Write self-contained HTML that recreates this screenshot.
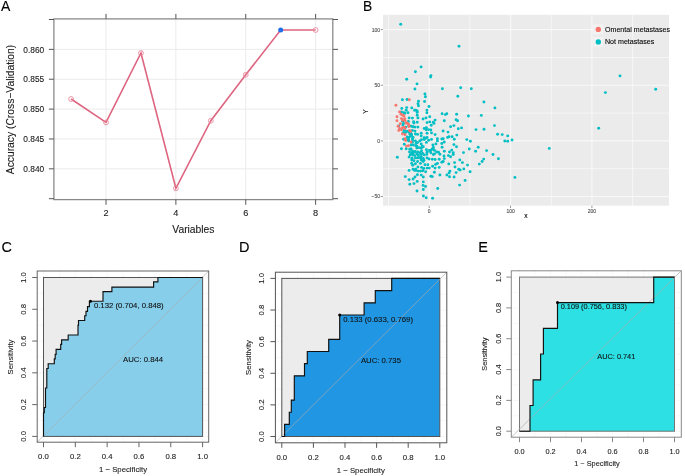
<!DOCTYPE html>
<html><head><meta charset="utf-8"><style>
html,body{margin:0;padding:0;background:#fff;}
svg{display:block;font-family:"Liberation Sans", sans-serif;}
text{-webkit-font-smoothing:antialiased;}
svg{will-change:transform;filter:blur(0.25px);}
</style></head><body>
<svg width="685" height="476" viewBox="0 0 685 476">
<rect width="685" height="476" fill="#fff"/>
<text stroke="#000" stroke-width="0.1" x="0.9" y="11.3" font-size="14" fill="#000">A</text>
<line x1="106.03" y1="18.9" x2="106.03" y2="199.6" stroke="#ebebeb" stroke-width="1"/>
<line x1="175.89" y1="18.9" x2="175.89" y2="199.6" stroke="#ebebeb" stroke-width="1"/>
<line x1="245.75" y1="18.9" x2="245.75" y2="199.6" stroke="#ebebeb" stroke-width="1"/>
<line x1="315.61" y1="18.9" x2="315.61" y2="199.6" stroke="#ebebeb" stroke-width="1"/>
<line x1="53.9" y1="168.83" x2="332.8" y2="168.83" stroke="#ebebeb" stroke-width="1"/>
<line x1="53.9" y1="138.97" x2="332.8" y2="138.97" stroke="#ebebeb" stroke-width="1"/>
<line x1="53.9" y1="109.1" x2="332.8" y2="109.1" stroke="#ebebeb" stroke-width="1"/>
<line x1="53.9" y1="79.23" x2="332.8" y2="79.23" stroke="#ebebeb" stroke-width="1"/>
<line x1="53.9" y1="49.37" x2="332.8" y2="49.37" stroke="#ebebeb" stroke-width="1"/>
<rect x="53.9" y="18.9" width="278.9" height="180.7" fill="none" stroke="#8a8a8a" stroke-width="1.3"/>
<line x1="48.9" y1="198.7" x2="53.9" y2="198.7" stroke="#555" stroke-width="1"/>
<line x1="332.8" y1="198.7" x2="338" y2="198.7" stroke="#555" stroke-width="1"/>
<line x1="48.9" y1="168.83" x2="53.9" y2="168.83" stroke="#555" stroke-width="1"/>
<line x1="332.8" y1="168.83" x2="338" y2="168.83" stroke="#555" stroke-width="1"/>
<line x1="48.9" y1="138.97" x2="53.9" y2="138.97" stroke="#555" stroke-width="1"/>
<line x1="332.8" y1="138.97" x2="338" y2="138.97" stroke="#555" stroke-width="1"/>
<line x1="48.9" y1="109.1" x2="53.9" y2="109.1" stroke="#555" stroke-width="1"/>
<line x1="332.8" y1="109.1" x2="338" y2="109.1" stroke="#555" stroke-width="1"/>
<line x1="48.9" y1="79.23" x2="53.9" y2="79.23" stroke="#555" stroke-width="1"/>
<line x1="332.8" y1="79.23" x2="338" y2="79.23" stroke="#555" stroke-width="1"/>
<line x1="48.9" y1="49.37" x2="53.9" y2="49.37" stroke="#555" stroke-width="1"/>
<line x1="332.8" y1="49.37" x2="338" y2="49.37" stroke="#555" stroke-width="1"/>
<line x1="48.9" y1="19.5" x2="53.9" y2="19.5" stroke="#555" stroke-width="1"/>
<line x1="332.8" y1="19.5" x2="338" y2="19.5" stroke="#555" stroke-width="1"/>
<line x1="106.03" y1="199.6" x2="106.03" y2="204.8" stroke="#555" stroke-width="1"/>
<line x1="106.03" y1="13.9" x2="106.03" y2="18.9" stroke="#555" stroke-width="1"/>
<text stroke="#1a1a1a" stroke-width="0.1" x="106.03" y="216" font-size="9.2" text-anchor="middle" fill="#1a1a1a">2</text>
<line x1="175.89" y1="199.6" x2="175.89" y2="204.8" stroke="#555" stroke-width="1"/>
<line x1="175.89" y1="13.9" x2="175.89" y2="18.9" stroke="#555" stroke-width="1"/>
<text stroke="#1a1a1a" stroke-width="0.1" x="175.89" y="216" font-size="9.2" text-anchor="middle" fill="#1a1a1a">4</text>
<line x1="245.75" y1="199.6" x2="245.75" y2="204.8" stroke="#555" stroke-width="1"/>
<line x1="245.75" y1="13.9" x2="245.75" y2="18.9" stroke="#555" stroke-width="1"/>
<text stroke="#1a1a1a" stroke-width="0.1" x="245.75" y="216" font-size="9.2" text-anchor="middle" fill="#1a1a1a">6</text>
<line x1="315.61" y1="199.6" x2="315.61" y2="204.8" stroke="#555" stroke-width="1"/>
<line x1="315.61" y1="13.9" x2="315.61" y2="18.9" stroke="#555" stroke-width="1"/>
<text stroke="#1a1a1a" stroke-width="0.1" x="315.61" y="216" font-size="9.2" text-anchor="middle" fill="#1a1a1a">8</text>
<text stroke="#1a1a1a" stroke-width="0.1" transform="translate(44.2,172.03) scale(0.95,1)" font-size="8.8" text-anchor="end" fill="#1a1a1a">0.840</text>
<text stroke="#1a1a1a" stroke-width="0.1" transform="translate(44.2,142.17) scale(0.95,1)" font-size="8.8" text-anchor="end" fill="#1a1a1a">0.845</text>
<text stroke="#1a1a1a" stroke-width="0.1" transform="translate(44.2,112.3) scale(0.95,1)" font-size="8.8" text-anchor="end" fill="#1a1a1a">0.850</text>
<text stroke="#1a1a1a" stroke-width="0.1" transform="translate(44.2,82.43) scale(0.95,1)" font-size="8.8" text-anchor="end" fill="#1a1a1a">0.855</text>
<text stroke="#1a1a1a" stroke-width="0.1" transform="translate(44.2,52.57) scale(0.95,1)" font-size="8.8" text-anchor="end" fill="#1a1a1a">0.860</text>
<text stroke="#1a1a1a" stroke-width="0.1" x="193.4" y="233.2" font-size="10.3" text-anchor="middle" fill="#1a1a1a">Variables</text>
<text stroke="#1a1a1a" stroke-width="0.1" transform="translate(13.6,109.5) rotate(-90)" x="0" y="0" font-size="10.3" text-anchor="middle" fill="#1a1a1a">Accuracy (Cross−Validation)</text>
<polyline points="71.1,99 106.03,122.4 140.96,53 175.89,188.3 210.82,120.7 245.75,74.8 280.68,30 315.61,30" fill="none" stroke="#de6580" stroke-width="1.6"/>
<circle cx="71.1" cy="99" r="2.4" fill="none" stroke="#e8899c" stroke-width="0.9"/>
<circle cx="106.03" cy="122.4" r="2.4" fill="none" stroke="#e8899c" stroke-width="0.9"/>
<circle cx="140.96" cy="53" r="2.4" fill="none" stroke="#e8899c" stroke-width="0.9"/>
<circle cx="175.89" cy="188.3" r="2.4" fill="none" stroke="#e8899c" stroke-width="0.9"/>
<circle cx="210.82" cy="120.7" r="2.4" fill="none" stroke="#e8899c" stroke-width="0.9"/>
<circle cx="245.75" cy="74.8" r="2.4" fill="none" stroke="#e8899c" stroke-width="0.9"/>
<circle cx="315.61" cy="30" r="2.4" fill="none" stroke="#e8899c" stroke-width="0.9"/>
<circle cx="280.68" cy="30.0" r="2.5" fill="#1f6fe8"/>
<text stroke="#000" stroke-width="0.1" x="363.0" y="11.0" font-size="13.8" fill="#000">B</text>
<rect x="383.0" y="14.8" width="286" height="190.9" fill="#ebebeb"/>
<line x1="388.52" y1="14.8" x2="388.52" y2="205.7" stroke="#fafafa" stroke-width="0.7"/>
<line x1="469.88" y1="14.8" x2="469.88" y2="205.7" stroke="#fafafa" stroke-width="0.7"/>
<line x1="551.24" y1="14.8" x2="551.24" y2="205.7" stroke="#fafafa" stroke-width="0.7"/>
<line x1="632.6" y1="14.8" x2="632.6" y2="205.7" stroke="#fafafa" stroke-width="0.7"/>
<line x1="383.0" y1="57.46" x2="669.0" y2="57.46" stroke="#fafafa" stroke-width="0.7"/>
<line x1="383.0" y1="113.09" x2="669.0" y2="113.09" stroke="#fafafa" stroke-width="0.7"/>
<line x1="383.0" y1="168.71" x2="669.0" y2="168.71" stroke="#fafafa" stroke-width="0.7"/>
<line x1="429.2" y1="14.8" x2="429.2" y2="205.7" stroke="#f8f8f8" stroke-width="1.1"/>
<line x1="429.2" y1="205.7" x2="429.2" y2="208" stroke="#333" stroke-width="0.5"/>
<text stroke="#4d4d4d" stroke-width="0.1" x="429.2" y="213.1" font-size="5.0" text-anchor="middle" fill="#4d4d4d">0</text>
<line x1="510.56" y1="14.8" x2="510.56" y2="205.7" stroke="#f8f8f8" stroke-width="1.1"/>
<line x1="510.56" y1="205.7" x2="510.56" y2="208" stroke="#333" stroke-width="0.5"/>
<text stroke="#4d4d4d" stroke-width="0.1" x="510.56" y="213.1" font-size="5.0" text-anchor="middle" fill="#4d4d4d">100</text>
<line x1="591.92" y1="14.8" x2="591.92" y2="205.7" stroke="#f8f8f8" stroke-width="1.1"/>
<line x1="591.92" y1="205.7" x2="591.92" y2="208" stroke="#333" stroke-width="0.5"/>
<text stroke="#4d4d4d" stroke-width="0.1" x="591.92" y="213.1" font-size="5.0" text-anchor="middle" fill="#4d4d4d">200</text>
<line x1="383.0" y1="29.65" x2="669.0" y2="29.65" stroke="#f8f8f8" stroke-width="1.1"/>
<line x1="380.7" y1="29.65" x2="383.0" y2="29.65" stroke="#333" stroke-width="0.5"/>
<text stroke="#4d4d4d" stroke-width="0.1" x="380" y="31.55" font-size="5.0" text-anchor="end" fill="#4d4d4d">100</text>
<line x1="383.0" y1="85.28" x2="669.0" y2="85.28" stroke="#f8f8f8" stroke-width="1.1"/>
<line x1="380.7" y1="85.28" x2="383.0" y2="85.28" stroke="#333" stroke-width="0.5"/>
<text stroke="#4d4d4d" stroke-width="0.1" x="380" y="87.18" font-size="5.0" text-anchor="end" fill="#4d4d4d">50</text>
<line x1="383.0" y1="140.9" x2="669.0" y2="140.9" stroke="#f8f8f8" stroke-width="1.1"/>
<line x1="380.7" y1="140.9" x2="383.0" y2="140.9" stroke="#333" stroke-width="0.5"/>
<text stroke="#4d4d4d" stroke-width="0.1" x="380" y="142.8" font-size="5.0" text-anchor="end" fill="#4d4d4d">0</text>
<line x1="383.0" y1="196.53" x2="669.0" y2="196.53" stroke="#f8f8f8" stroke-width="1.1"/>
<line x1="380.7" y1="196.53" x2="383.0" y2="196.53" stroke="#333" stroke-width="0.5"/>
<text stroke="#4d4d4d" stroke-width="0.1" x="380" y="198.43" font-size="5.0" text-anchor="end" fill="#4d4d4d">−50</text>
<text stroke="#000" stroke-width="0.1" x="526" y="218.2" font-size="6.6" text-anchor="middle" fill="#000">x</text>
<text stroke="#000" stroke-width="0.1" transform="translate(367.6,111.5) rotate(-90)" x="0" y="0" font-size="6.6" text-anchor="middle" fill="#000">Y</text>
<circle cx="400.7" cy="24.3" r="1.45" fill="#00bfc4"/>
<circle cx="459" cy="46.2" r="1.45" fill="#00bfc4"/>
<circle cx="421.1" cy="66.9" r="1.45" fill="#00bfc4"/>
<circle cx="415.4" cy="71.8" r="1.45" fill="#00bfc4"/>
<circle cx="430.9" cy="75.6" r="1.45" fill="#00bfc4"/>
<circle cx="430.6" cy="77" r="1.45" fill="#00bfc4"/>
<circle cx="406.7" cy="79.3" r="1.45" fill="#00bfc4"/>
<circle cx="417" cy="83.9" r="1.45" fill="#00bfc4"/>
<circle cx="414.9" cy="89" r="1.45" fill="#00bfc4"/>
<circle cx="442.4" cy="88.8" r="1.45" fill="#00bfc4"/>
<circle cx="424.9" cy="94" r="1.45" fill="#00bfc4"/>
<circle cx="425.4" cy="96.8" r="1.45" fill="#00bfc4"/>
<circle cx="402.4" cy="99.8" r="1.45" fill="#00bfc4"/>
<circle cx="407" cy="99.5" r="1.45" fill="#00bfc4"/>
<circle cx="418.5" cy="101.2" r="1.45" fill="#00bfc4"/>
<circle cx="424.6" cy="101.5" r="1.45" fill="#00bfc4"/>
<circle cx="418" cy="103.8" r="1.45" fill="#00bfc4"/>
<circle cx="418.5" cy="105.8" r="1.45" fill="#00bfc4"/>
<circle cx="429" cy="106.5" r="1.45" fill="#00bfc4"/>
<circle cx="401.8" cy="108.4" r="1.45" fill="#00bfc4"/>
<circle cx="406.7" cy="107.6" r="1.45" fill="#00bfc4"/>
<circle cx="411.8" cy="107.9" r="1.45" fill="#00bfc4"/>
<circle cx="460.7" cy="87.8" r="1.45" fill="#00bfc4"/>
<circle cx="471.3" cy="88.8" r="1.45" fill="#00bfc4"/>
<circle cx="457.8" cy="96.3" r="1.45" fill="#00bfc4"/>
<circle cx="483.9" cy="102" r="1.45" fill="#00bfc4"/>
<circle cx="494.9" cy="107.9" r="1.45" fill="#00bfc4"/>
<circle cx="406.2" cy="110.3" r="1.45" fill="#00bfc4"/>
<circle cx="414.6" cy="110.3" r="1.45" fill="#00bfc4"/>
<circle cx="417.2" cy="110.9" r="1.45" fill="#00bfc4"/>
<circle cx="417.2" cy="112.4" r="1.45" fill="#00bfc4"/>
<circle cx="426.9" cy="110.1" r="1.45" fill="#00bfc4"/>
<circle cx="426.9" cy="112.7" r="1.45" fill="#00bfc4"/>
<circle cx="401.4" cy="112" r="1.45" fill="#00bfc4"/>
<circle cx="403.6" cy="112.7" r="1.45" fill="#00bfc4"/>
<circle cx="408" cy="112.7" r="1.45" fill="#00bfc4"/>
<circle cx="417.2" cy="115.3" r="1.45" fill="#00bfc4"/>
<circle cx="409.1" cy="117.9" r="1.45" fill="#00bfc4"/>
<circle cx="412.4" cy="118.1" r="1.45" fill="#00bfc4"/>
<circle cx="417.9" cy="117.9" r="1.45" fill="#00bfc4"/>
<circle cx="423.1" cy="119" r="1.45" fill="#00bfc4"/>
<circle cx="426" cy="117.9" r="1.45" fill="#00bfc4"/>
<circle cx="429.7" cy="116.8" r="1.45" fill="#00bfc4"/>
<circle cx="402.5" cy="121.2" r="1.45" fill="#00bfc4"/>
<circle cx="408.4" cy="121.5" r="1.45" fill="#00bfc4"/>
<circle cx="413.9" cy="123" r="1.45" fill="#00bfc4"/>
<circle cx="417.2" cy="122.3" r="1.45" fill="#00bfc4"/>
<circle cx="427.1" cy="122.6" r="1.45" fill="#00bfc4"/>
<circle cx="429.7" cy="121.9" r="1.45" fill="#00bfc4"/>
<circle cx="403.6" cy="123.4" r="1.45" fill="#00bfc4"/>
<circle cx="402.9" cy="124.9" r="1.45" fill="#00bfc4"/>
<circle cx="431.2" cy="125.2" r="1.45" fill="#00bfc4"/>
<circle cx="398.8" cy="126" r="1.45" fill="#00bfc4"/>
<circle cx="405.8" cy="127.1" r="1.45" fill="#00bfc4"/>
<circle cx="408.7" cy="126" r="1.45" fill="#00bfc4"/>
<circle cx="411.3" cy="126.3" r="1.45" fill="#00bfc4"/>
<circle cx="413.1" cy="126.7" r="1.45" fill="#00bfc4"/>
<circle cx="415" cy="127.1" r="1.45" fill="#00bfc4"/>
<circle cx="417.9" cy="127.1" r="1.45" fill="#00bfc4"/>
<circle cx="424.2" cy="128.5" r="1.45" fill="#00bfc4"/>
<circle cx="426.4" cy="127.8" r="1.45" fill="#00bfc4"/>
<circle cx="428.6" cy="129.6" r="1.45" fill="#00bfc4"/>
<circle cx="430.8" cy="130" r="1.45" fill="#00bfc4"/>
<circle cx="404.3" cy="130.4" r="1.45" fill="#00bfc4"/>
<circle cx="406.5" cy="131.5" r="1.45" fill="#00bfc4"/>
<circle cx="412.4" cy="130.4" r="1.45" fill="#00bfc4"/>
<circle cx="415" cy="131.1" r="1.45" fill="#00bfc4"/>
<circle cx="403.2" cy="132.6" r="1.45" fill="#00bfc4"/>
<circle cx="405.1" cy="132.9" r="1.45" fill="#00bfc4"/>
<circle cx="410.9" cy="133.3" r="1.45" fill="#00bfc4"/>
<circle cx="415.4" cy="134" r="1.45" fill="#00bfc4"/>
<circle cx="417.6" cy="134.4" r="1.45" fill="#00bfc4"/>
<circle cx="421.2" cy="133.3" r="1.45" fill="#00bfc4"/>
<circle cx="427.1" cy="133.3" r="1.45" fill="#00bfc4"/>
<circle cx="431.5" cy="132.9" r="1.45" fill="#00bfc4"/>
<circle cx="407.3" cy="137" r="1.45" fill="#00bfc4"/>
<circle cx="408.7" cy="137.4" r="1.45" fill="#00bfc4"/>
<circle cx="411.7" cy="135.9" r="1.45" fill="#00bfc4"/>
<circle cx="413.1" cy="137.4" r="1.45" fill="#00bfc4"/>
<circle cx="421.2" cy="135.9" r="1.45" fill="#00bfc4"/>
<circle cx="424.2" cy="137.7" r="1.45" fill="#00bfc4"/>
<circle cx="427.1" cy="137.4" r="1.45" fill="#00bfc4"/>
<circle cx="403.6" cy="139.2" r="1.45" fill="#00bfc4"/>
<circle cx="407.3" cy="139.6" r="1.45" fill="#00bfc4"/>
<circle cx="442.1" cy="113.7" r="1.45" fill="#00bfc4"/>
<circle cx="445.4" cy="114.6" r="1.45" fill="#00bfc4"/>
<circle cx="446.8" cy="113.8" r="1.45" fill="#00bfc4"/>
<circle cx="456.6" cy="114.2" r="1.45" fill="#00bfc4"/>
<circle cx="468.4" cy="116" r="1.45" fill="#00bfc4"/>
<circle cx="435.1" cy="120.1" r="1.45" fill="#00bfc4"/>
<circle cx="433.3" cy="122.3" r="1.45" fill="#00bfc4"/>
<circle cx="434" cy="123.4" r="1.45" fill="#00bfc4"/>
<circle cx="444.3" cy="120.8" r="1.45" fill="#00bfc4"/>
<circle cx="456.1" cy="119.7" r="1.45" fill="#00bfc4"/>
<circle cx="457.6" cy="120.8" r="1.45" fill="#00bfc4"/>
<circle cx="450.6" cy="126.8" r="1.45" fill="#00bfc4"/>
<circle cx="453.9" cy="125.6" r="1.45" fill="#00bfc4"/>
<circle cx="458.3" cy="128.7" r="1.45" fill="#00bfc4"/>
<circle cx="461.6" cy="127.9" r="1.45" fill="#00bfc4"/>
<circle cx="476" cy="129.6" r="1.45" fill="#00bfc4"/>
<circle cx="443.1" cy="131" r="1.45" fill="#00bfc4"/>
<circle cx="448" cy="132.1" r="1.45" fill="#00bfc4"/>
<circle cx="435.1" cy="134.6" r="1.45" fill="#00bfc4"/>
<circle cx="456.8" cy="135.1" r="1.45" fill="#00bfc4"/>
<circle cx="447.6" cy="137.4" r="1.45" fill="#00bfc4"/>
<circle cx="449" cy="136.8" r="1.45" fill="#00bfc4"/>
<circle cx="452.1" cy="136.8" r="1.45" fill="#00bfc4"/>
<circle cx="437.4" cy="138.8" r="1.45" fill="#00bfc4"/>
<circle cx="441.8" cy="139" r="1.45" fill="#00bfc4"/>
<circle cx="443.2" cy="138.7" r="1.45" fill="#00bfc4"/>
<circle cx="454.3" cy="139.2" r="1.45" fill="#00bfc4"/>
<circle cx="466.8" cy="139.6" r="1.45" fill="#00bfc4"/>
<circle cx="431.5" cy="139.4" r="1.45" fill="#00bfc4"/>
<circle cx="481.3" cy="115.4" r="1.45" fill="#00bfc4"/>
<circle cx="494.5" cy="125.6" r="1.45" fill="#00bfc4"/>
<circle cx="484" cy="129.2" r="1.45" fill="#00bfc4"/>
<circle cx="497.6" cy="134.3" r="1.45" fill="#00bfc4"/>
<circle cx="502.2" cy="134.6" r="1.45" fill="#00bfc4"/>
<circle cx="507.7" cy="135.9" r="1.45" fill="#00bfc4"/>
<circle cx="512" cy="140" r="1.45" fill="#00bfc4"/>
<circle cx="504.8" cy="141" r="1.45" fill="#00bfc4"/>
<circle cx="507.7" cy="141.3" r="1.45" fill="#00bfc4"/>
<circle cx="404.3" cy="144.3" r="1.45" fill="#00bfc4"/>
<circle cx="401.4" cy="148.7" r="1.45" fill="#00bfc4"/>
<circle cx="397.3" cy="157.3" r="1.45" fill="#00bfc4"/>
<circle cx="406.2" cy="148.7" r="1.45" fill="#00bfc4"/>
<circle cx="408.7" cy="139.5" r="1.45" fill="#00bfc4"/>
<circle cx="412.4" cy="138.7" r="1.45" fill="#00bfc4"/>
<circle cx="412.4" cy="142.4" r="1.45" fill="#00bfc4"/>
<circle cx="411" cy="145" r="1.45" fill="#00bfc4"/>
<circle cx="415.4" cy="140.9" r="1.45" fill="#00bfc4"/>
<circle cx="417.6" cy="142.4" r="1.45" fill="#00bfc4"/>
<circle cx="419.8" cy="140.9" r="1.45" fill="#00bfc4"/>
<circle cx="421.2" cy="143.9" r="1.45" fill="#00bfc4"/>
<circle cx="422" cy="146.1" r="1.45" fill="#00bfc4"/>
<circle cx="416.8" cy="146.1" r="1.45" fill="#00bfc4"/>
<circle cx="419" cy="147.6" r="1.45" fill="#00bfc4"/>
<circle cx="421.2" cy="148.3" r="1.45" fill="#00bfc4"/>
<circle cx="426.4" cy="142.4" r="1.45" fill="#00bfc4"/>
<circle cx="428.6" cy="140.2" r="1.45" fill="#00bfc4"/>
<circle cx="424.2" cy="139.5" r="1.45" fill="#00bfc4"/>
<circle cx="411" cy="149" r="1.45" fill="#00bfc4"/>
<circle cx="412.4" cy="150.9" r="1.45" fill="#00bfc4"/>
<circle cx="409.5" cy="152" r="1.45" fill="#00bfc4"/>
<circle cx="413.9" cy="152.3" r="1.45" fill="#00bfc4"/>
<circle cx="417.6" cy="152" r="1.45" fill="#00bfc4"/>
<circle cx="419.8" cy="152.7" r="1.45" fill="#00bfc4"/>
<circle cx="422.7" cy="153.4" r="1.45" fill="#00bfc4"/>
<circle cx="426.4" cy="149.8" r="1.45" fill="#00bfc4"/>
<circle cx="429.3" cy="150.5" r="1.45" fill="#00bfc4"/>
<circle cx="427.1" cy="152.3" r="1.45" fill="#00bfc4"/>
<circle cx="430.8" cy="152.7" r="1.45" fill="#00bfc4"/>
<circle cx="410.2" cy="154.9" r="1.45" fill="#00bfc4"/>
<circle cx="414.6" cy="155.6" r="1.45" fill="#00bfc4"/>
<circle cx="418.3" cy="155.3" r="1.45" fill="#00bfc4"/>
<circle cx="421.2" cy="156.4" r="1.45" fill="#00bfc4"/>
<circle cx="424.2" cy="154.9" r="1.45" fill="#00bfc4"/>
<circle cx="427.1" cy="157.9" r="1.45" fill="#00bfc4"/>
<circle cx="429" cy="159" r="1.45" fill="#00bfc4"/>
<circle cx="432.3" cy="159.3" r="1.45" fill="#00bfc4"/>
<circle cx="409.1" cy="157.1" r="1.45" fill="#00bfc4"/>
<circle cx="412" cy="158.2" r="1.45" fill="#00bfc4"/>
<circle cx="415.4" cy="157.9" r="1.45" fill="#00bfc4"/>
<circle cx="419" cy="157.5" r="1.45" fill="#00bfc4"/>
<circle cx="411.7" cy="160.1" r="1.45" fill="#00bfc4"/>
<circle cx="413.9" cy="160.8" r="1.45" fill="#00bfc4"/>
<circle cx="417.6" cy="161.5" r="1.45" fill="#00bfc4"/>
<circle cx="421.2" cy="160.1" r="1.45" fill="#00bfc4"/>
<circle cx="423.1" cy="161.5" r="1.45" fill="#00bfc4"/>
<circle cx="411.7" cy="163.4" r="1.45" fill="#00bfc4"/>
<circle cx="415.4" cy="163.7" r="1.45" fill="#00bfc4"/>
<circle cx="420.5" cy="163.4" r="1.45" fill="#00bfc4"/>
<circle cx="424.9" cy="164.8" r="1.45" fill="#00bfc4"/>
<circle cx="427.9" cy="164.8" r="1.45" fill="#00bfc4"/>
<circle cx="432.6" cy="166.3" r="1.45" fill="#00bfc4"/>
<circle cx="412.8" cy="165.2" r="1.45" fill="#00bfc4"/>
<circle cx="417.9" cy="167" r="1.45" fill="#00bfc4"/>
<circle cx="421.6" cy="167.4" r="1.45" fill="#00bfc4"/>
<circle cx="423.8" cy="168.5" r="1.45" fill="#00bfc4"/>
<circle cx="427.1" cy="168.1" r="1.45" fill="#00bfc4"/>
<circle cx="429.3" cy="168.1" r="1.45" fill="#00bfc4"/>
<circle cx="409.1" cy="170.4" r="1.45" fill="#00bfc4"/>
<circle cx="413.1" cy="169.3" r="1.45" fill="#00bfc4"/>
<circle cx="414.6" cy="170.4" r="1.45" fill="#00bfc4"/>
<circle cx="418.3" cy="171.1" r="1.45" fill="#00bfc4"/>
<circle cx="422.7" cy="170.7" r="1.45" fill="#00bfc4"/>
<circle cx="425.6" cy="171.8" r="1.45" fill="#00bfc4"/>
<circle cx="437.4" cy="140.9" r="1.45" fill="#00bfc4"/>
<circle cx="470.4" cy="141.3" r="1.45" fill="#00bfc4"/>
<circle cx="432.9" cy="145" r="1.45" fill="#00bfc4"/>
<circle cx="435.9" cy="143.9" r="1.45" fill="#00bfc4"/>
<circle cx="441.8" cy="143.5" r="1.45" fill="#00bfc4"/>
<circle cx="444.3" cy="142" r="1.45" fill="#00bfc4"/>
<circle cx="442.1" cy="147.2" r="1.45" fill="#00bfc4"/>
<circle cx="453.9" cy="144.6" r="1.45" fill="#00bfc4"/>
<circle cx="456.5" cy="146.8" r="1.45" fill="#00bfc4"/>
<circle cx="469.3" cy="149" r="1.45" fill="#00bfc4"/>
<circle cx="478.2" cy="147.2" r="1.45" fill="#00bfc4"/>
<circle cx="475.6" cy="151.2" r="1.45" fill="#00bfc4"/>
<circle cx="430.7" cy="150.5" r="1.45" fill="#00bfc4"/>
<circle cx="433.3" cy="149" r="1.45" fill="#00bfc4"/>
<circle cx="436.6" cy="152" r="1.45" fill="#00bfc4"/>
<circle cx="438.5" cy="152.3" r="1.45" fill="#00bfc4"/>
<circle cx="444.3" cy="151.2" r="1.45" fill="#00bfc4"/>
<circle cx="449.5" cy="152" r="1.45" fill="#00bfc4"/>
<circle cx="451.7" cy="150.1" r="1.45" fill="#00bfc4"/>
<circle cx="453.2" cy="152.7" r="1.45" fill="#00bfc4"/>
<circle cx="463.5" cy="152.6" r="1.45" fill="#00bfc4"/>
<circle cx="433.3" cy="154.5" r="1.45" fill="#00bfc4"/>
<circle cx="439.9" cy="154.2" r="1.45" fill="#00bfc4"/>
<circle cx="444" cy="156" r="1.45" fill="#00bfc4"/>
<circle cx="448.4" cy="155.6" r="1.45" fill="#00bfc4"/>
<circle cx="450.6" cy="156.8" r="1.45" fill="#00bfc4"/>
<circle cx="453.2" cy="154.5" r="1.45" fill="#00bfc4"/>
<circle cx="435.1" cy="159.5" r="1.45" fill="#00bfc4"/>
<circle cx="439.2" cy="159.2" r="1.45" fill="#00bfc4"/>
<circle cx="444.3" cy="158.6" r="1.45" fill="#00bfc4"/>
<circle cx="459.8" cy="159.9" r="1.45" fill="#00bfc4"/>
<circle cx="437.4" cy="163.4" r="1.45" fill="#00bfc4"/>
<circle cx="441.8" cy="162.3" r="1.45" fill="#00bfc4"/>
<circle cx="443.2" cy="161.5" r="1.45" fill="#00bfc4"/>
<circle cx="448.8" cy="163.9" r="1.45" fill="#00bfc4"/>
<circle cx="454.6" cy="162.6" r="1.45" fill="#00bfc4"/>
<circle cx="462.4" cy="162.6" r="1.45" fill="#00bfc4"/>
<circle cx="467.5" cy="165.1" r="1.45" fill="#00bfc4"/>
<circle cx="479.3" cy="164.1" r="1.45" fill="#00bfc4"/>
<circle cx="435.1" cy="168.1" r="1.45" fill="#00bfc4"/>
<circle cx="439.2" cy="167.4" r="1.45" fill="#00bfc4"/>
<circle cx="455" cy="167" r="1.45" fill="#00bfc4"/>
<circle cx="458.7" cy="169.3" r="1.45" fill="#00bfc4"/>
<circle cx="460.1" cy="170" r="1.45" fill="#00bfc4"/>
<circle cx="463.8" cy="168.9" r="1.45" fill="#00bfc4"/>
<circle cx="434.4" cy="172.2" r="1.45" fill="#00bfc4"/>
<circle cx="449.9" cy="171.1" r="1.45" fill="#00bfc4"/>
<circle cx="456.1" cy="172.6" r="1.45" fill="#00bfc4"/>
<circle cx="470.1" cy="171.8" r="1.45" fill="#00bfc4"/>
<circle cx="486.6" cy="150.6" r="1.45" fill="#00bfc4"/>
<circle cx="493" cy="154.5" r="1.45" fill="#00bfc4"/>
<circle cx="498.4" cy="158.8" r="1.45" fill="#00bfc4"/>
<circle cx="483.7" cy="159.1" r="1.45" fill="#00bfc4"/>
<circle cx="482.1" cy="161.5" r="1.45" fill="#00bfc4"/>
<circle cx="514.9" cy="177.4" r="1.45" fill="#00bfc4"/>
<circle cx="416.1" cy="170.4" r="1.45" fill="#00bfc4"/>
<circle cx="420.5" cy="171.1" r="1.45" fill="#00bfc4"/>
<circle cx="405.3" cy="176.6" r="1.45" fill="#00bfc4"/>
<circle cx="409.1" cy="179.6" r="1.45" fill="#00bfc4"/>
<circle cx="413.1" cy="179" r="1.45" fill="#00bfc4"/>
<circle cx="415" cy="177" r="1.45" fill="#00bfc4"/>
<circle cx="417.4" cy="174.8" r="1.45" fill="#00bfc4"/>
<circle cx="421.2" cy="175.1" r="1.45" fill="#00bfc4"/>
<circle cx="423.3" cy="177" r="1.45" fill="#00bfc4"/>
<circle cx="430.8" cy="176.3" r="1.45" fill="#00bfc4"/>
<circle cx="432.3" cy="176.6" r="1.45" fill="#00bfc4"/>
<circle cx="409.8" cy="184.3" r="1.45" fill="#00bfc4"/>
<circle cx="414" cy="183.6" r="1.45" fill="#00bfc4"/>
<circle cx="417.2" cy="181.4" r="1.45" fill="#00bfc4"/>
<circle cx="423.3" cy="181.9" r="1.45" fill="#00bfc4"/>
<circle cx="423.1" cy="185.4" r="1.45" fill="#00bfc4"/>
<circle cx="425.5" cy="186.5" r="1.45" fill="#00bfc4"/>
<circle cx="423.3" cy="189.5" r="1.45" fill="#00bfc4"/>
<circle cx="417" cy="191" r="1.45" fill="#00bfc4"/>
<circle cx="423.4" cy="196" r="1.45" fill="#00bfc4"/>
<circle cx="426.2" cy="197.8" r="1.45" fill="#00bfc4"/>
<circle cx="432.6" cy="198.2" r="1.45" fill="#00bfc4"/>
<circle cx="439.9" cy="175" r="1.45" fill="#00bfc4"/>
<circle cx="446.9" cy="175" r="1.45" fill="#00bfc4"/>
<circle cx="449.1" cy="172.9" r="1.45" fill="#00bfc4"/>
<circle cx="449.5" cy="176.8" r="1.45" fill="#00bfc4"/>
<circle cx="454.1" cy="177" r="1.45" fill="#00bfc4"/>
<circle cx="465.1" cy="180.4" r="1.45" fill="#00bfc4"/>
<circle cx="459.6" cy="185.1" r="1.45" fill="#00bfc4"/>
<circle cx="437.7" cy="188.5" r="1.45" fill="#00bfc4"/>
<circle cx="620" cy="75.9" r="1.45" fill="#00bfc4"/>
<circle cx="605.4" cy="92.6" r="1.45" fill="#00bfc4"/>
<circle cx="655.7" cy="89.3" r="1.45" fill="#00bfc4"/>
<circle cx="598.7" cy="128.3" r="1.45" fill="#00bfc4"/>
<circle cx="549.3" cy="148.4" r="1.45" fill="#00bfc4"/>
<circle cx="408" cy="131.2" r="1.45" fill="#00bfc4"/>
<circle cx="409.2" cy="132.1" r="1.45" fill="#00bfc4"/>
<circle cx="409.8" cy="133.9" r="1.45" fill="#00bfc4"/>
<circle cx="411.5" cy="134.5" r="1.45" fill="#00bfc4"/>
<circle cx="426.2" cy="129.8" r="1.45" fill="#00bfc4"/>
<circle cx="410.4" cy="136.2" r="1.45" fill="#00bfc4"/>
<circle cx="408.6" cy="140.9" r="1.45" fill="#00bfc4"/>
<circle cx="412.7" cy="140.4" r="1.45" fill="#00bfc4"/>
<circle cx="421.5" cy="139.8" r="1.45" fill="#00bfc4"/>
<circle cx="425.6" cy="138.3" r="1.45" fill="#00bfc4"/>
<circle cx="416.2" cy="143.3" r="1.45" fill="#00bfc4"/>
<circle cx="413.3" cy="145.1" r="1.45" fill="#00bfc4"/>
<circle cx="415.6" cy="145.6" r="1.45" fill="#00bfc4"/>
<circle cx="423.3" cy="146.8" r="1.45" fill="#00bfc4"/>
<circle cx="416.8" cy="148" r="1.45" fill="#00bfc4"/>
<circle cx="409.8" cy="149.2" r="1.45" fill="#00bfc4"/>
<circle cx="415.1" cy="151.5" r="1.45" fill="#00bfc4"/>
<circle cx="421.5" cy="150.9" r="1.45" fill="#00bfc4"/>
<circle cx="432.1" cy="149.2" r="1.45" fill="#00bfc4"/>
<circle cx="433.3" cy="147.4" r="1.45" fill="#00bfc4"/>
<circle cx="434.5" cy="150.4" r="1.45" fill="#00bfc4"/>
<circle cx="412.7" cy="153.3" r="1.45" fill="#00bfc4"/>
<circle cx="416.8" cy="153.9" r="1.45" fill="#00bfc4"/>
<circle cx="420.9" cy="153.9" r="1.45" fill="#00bfc4"/>
<circle cx="434.5" cy="153.9" r="1.45" fill="#00bfc4"/>
<circle cx="411.5" cy="153.2" r="1.45" fill="#00bfc4"/>
<circle cx="426.8" cy="154.4" r="1.45" fill="#00bfc4"/>
<circle cx="412.7" cy="154.9" r="1.45" fill="#00bfc4"/>
<circle cx="417.4" cy="157.9" r="1.45" fill="#00bfc4"/>
<circle cx="420.9" cy="158.5" r="1.45" fill="#00bfc4"/>
<circle cx="423.3" cy="158.5" r="1.45" fill="#00bfc4"/>
<circle cx="423.9" cy="160.2" r="1.45" fill="#00bfc4"/>
<circle cx="435.6" cy="164.4" r="1.45" fill="#00bfc4"/>
<circle cx="415.6" cy="169.1" r="1.45" fill="#00bfc4"/>
<circle cx="415.8" cy="110.1" r="1.45" fill="#00bfc4"/>
<circle cx="404.8" cy="113.2" r="1.45" fill="#00bfc4"/>
<circle cx="413.6" cy="121.7" r="1.45" fill="#00bfc4"/>
<circle cx="409.3" cy="99.8" r="1.45" fill="#f8766d"/>
<circle cx="395.9" cy="105.3" r="1.45" fill="#f8766d"/>
<circle cx="399.5" cy="112" r="1.45" fill="#f8766d"/>
<circle cx="401" cy="114.2" r="1.45" fill="#f8766d"/>
<circle cx="402.9" cy="115.3" r="1.45" fill="#f8766d"/>
<circle cx="404" cy="116" r="1.45" fill="#f8766d"/>
<circle cx="397" cy="116.8" r="1.45" fill="#f8766d"/>
<circle cx="401.4" cy="118.6" r="1.45" fill="#f8766d"/>
<circle cx="404.7" cy="118.6" r="1.45" fill="#f8766d"/>
<circle cx="397" cy="120.8" r="1.45" fill="#f8766d"/>
<circle cx="405.1" cy="120.8" r="1.45" fill="#f8766d"/>
<circle cx="400.3" cy="123.8" r="1.45" fill="#f8766d"/>
<circle cx="407.3" cy="123" r="1.45" fill="#f8766d"/>
<circle cx="408.7" cy="124.5" r="1.45" fill="#f8766d"/>
<circle cx="398.1" cy="126.3" r="1.45" fill="#f8766d"/>
<circle cx="399.5" cy="128.5" r="1.45" fill="#f8766d"/>
<circle cx="398.8" cy="130.4" r="1.45" fill="#f8766d"/>
<circle cx="402.5" cy="127.8" r="1.45" fill="#f8766d"/>
<circle cx="404.3" cy="127.1" r="1.45" fill="#f8766d"/>
<circle cx="409.5" cy="130.4" r="1.45" fill="#f8766d"/>
<circle cx="410.6" cy="131.5" r="1.45" fill="#f8766d"/>
<circle cx="402.5" cy="134" r="1.45" fill="#f8766d"/>
<circle cx="405.1" cy="134.8" r="1.45" fill="#f8766d"/>
<circle cx="405.1" cy="138.8" r="1.45" fill="#f8766d"/>
<circle cx="411" cy="142" r="1.45" fill="#f8766d"/>
<circle cx="406.5" cy="146.1" r="1.45" fill="#f8766d"/>
<circle cx="408.4" cy="145.7" r="1.45" fill="#f8766d"/>
<circle cx="401.5" cy="129.8" r="1.45" fill="#f8766d"/>
<circle cx="405.1" cy="128.6" r="1.45" fill="#f8766d"/>
<circle cx="405.6" cy="140.4" r="1.45" fill="#f8766d"/>
<circle cx="402.6" cy="120.2" r="1.45" fill="#f8766d"/>
<circle cx="406.1" cy="123.3" r="1.45" fill="#f8766d"/>
<circle cx="408.9" cy="126.5" r="1.45" fill="#f8766d"/>
<rect x="593.2" y="24.4" width="10" height="10" fill="#f2f2f2"/>
<rect x="593.2" y="36.9" width="10" height="10" fill="#f2f2f2"/>
<circle cx="598.3" cy="29.4" r="2.7" fill="#f8766d"/>
<circle cx="598.3" cy="41.9" r="2.7" fill="#00bfc4"/>
<text stroke="#000" stroke-width="0.1" x="605" y="31.9" font-size="7.1" fill="#000">Omental metastases</text>
<text stroke="#000" stroke-width="0.1" x="605" y="44.4" font-size="7.1" fill="#000">Not metastases</text>
<text stroke="#000" stroke-width="0.1" x="1.5" y="252.3" font-size="14.5" fill="#000">C</text>
<line x1="43.5" y1="271" x2="43.5" y2="442.2" stroke="#e2e2e2" stroke-width="0.7" stroke-dasharray="1 1.5"/>
<line x1="37.2" y1="436.4" x2="208.7" y2="436.4" stroke="#e2e2e2" stroke-width="0.7" stroke-dasharray="1 1.5"/>
<line x1="59.41" y1="271" x2="59.41" y2="442.2" stroke="#e2e2e2" stroke-width="0.7" stroke-dasharray="1 1.5"/>
<line x1="37.2" y1="420.51" x2="208.7" y2="420.51" stroke="#e2e2e2" stroke-width="0.7" stroke-dasharray="1 1.5"/>
<line x1="75.32" y1="271" x2="75.32" y2="442.2" stroke="#e2e2e2" stroke-width="0.7" stroke-dasharray="1 1.5"/>
<line x1="37.2" y1="404.62" x2="208.7" y2="404.62" stroke="#e2e2e2" stroke-width="0.7" stroke-dasharray="1 1.5"/>
<line x1="91.23" y1="271" x2="91.23" y2="442.2" stroke="#e2e2e2" stroke-width="0.7" stroke-dasharray="1 1.5"/>
<line x1="37.2" y1="388.73" x2="208.7" y2="388.73" stroke="#e2e2e2" stroke-width="0.7" stroke-dasharray="1 1.5"/>
<line x1="107.14" y1="271" x2="107.14" y2="442.2" stroke="#e2e2e2" stroke-width="0.7" stroke-dasharray="1 1.5"/>
<line x1="37.2" y1="372.84" x2="208.7" y2="372.84" stroke="#e2e2e2" stroke-width="0.7" stroke-dasharray="1 1.5"/>
<line x1="123.05" y1="271" x2="123.05" y2="442.2" stroke="#e2e2e2" stroke-width="0.7" stroke-dasharray="1 1.5"/>
<line x1="37.2" y1="356.95" x2="208.7" y2="356.95" stroke="#e2e2e2" stroke-width="0.7" stroke-dasharray="1 1.5"/>
<line x1="138.96" y1="271" x2="138.96" y2="442.2" stroke="#e2e2e2" stroke-width="0.7" stroke-dasharray="1 1.5"/>
<line x1="37.2" y1="341.06" x2="208.7" y2="341.06" stroke="#e2e2e2" stroke-width="0.7" stroke-dasharray="1 1.5"/>
<line x1="154.87" y1="271" x2="154.87" y2="442.2" stroke="#e2e2e2" stroke-width="0.7" stroke-dasharray="1 1.5"/>
<line x1="37.2" y1="325.17" x2="208.7" y2="325.17" stroke="#e2e2e2" stroke-width="0.7" stroke-dasharray="1 1.5"/>
<line x1="170.78" y1="271" x2="170.78" y2="442.2" stroke="#e2e2e2" stroke-width="0.7" stroke-dasharray="1 1.5"/>
<line x1="37.2" y1="309.28" x2="208.7" y2="309.28" stroke="#e2e2e2" stroke-width="0.7" stroke-dasharray="1 1.5"/>
<line x1="186.69" y1="271" x2="186.69" y2="442.2" stroke="#e2e2e2" stroke-width="0.7" stroke-dasharray="1 1.5"/>
<line x1="37.2" y1="293.39" x2="208.7" y2="293.39" stroke="#e2e2e2" stroke-width="0.7" stroke-dasharray="1 1.5"/>
<line x1="202.6" y1="271" x2="202.6" y2="442.2" stroke="#e2e2e2" stroke-width="0.7" stroke-dasharray="1 1.5"/>
<line x1="37.2" y1="277.5" x2="208.7" y2="277.5" stroke="#e2e2e2" stroke-width="0.7" stroke-dasharray="1 1.5"/>
<rect x="43.5" y="277.5" width="159.1" height="158.9" fill="#ececec"/>
<polygon points="43.5,436.4 43.5,436.4 43.5,412.7 44.3,412.7 44.3,407.5 45.5,407.5 45.5,388 46.8,388 46.8,368.5 48.2,368.5 48.2,363.7 54.3,363.7 54.3,358.8 55.2,358.8 55.2,354.4 56.1,354.4 56.1,349.3 60.7,349.3 60.7,344.3 61.6,344.3 61.6,339.9 68.2,339.9 68.2,335 78,335 78,325.3 78.5,325.3 78.5,320.5 84.7,320.5 84.7,315.7 86,315.7 86,311.3 87.5,311.3 87.5,306.6 89.4,306.6 89.4,301.2 103,301.2 103,291.6 111.9,291.6 111.9,287.1 153.6,287.1 153.6,281.8 157.9,281.8 157.9,277.5 202.6,277.5 202.6,436.4" fill="#87ceeb"/>
<rect x="43.5" y="277.5" width="159.1" height="158.9" fill="none" stroke="#555" stroke-width="1"/>
<line x1="37.2" y1="442.2" x2="208.7" y2="271" stroke="#aaaaaa" stroke-width="0.65"/>
<polyline points="43.5,436.4 43.5,436.4 43.5,412.7 44.3,412.7 44.3,407.5 45.5,407.5 45.5,388 46.8,388 46.8,368.5 48.2,368.5 48.2,363.7 54.3,363.7 54.3,358.8 55.2,358.8 55.2,354.4 56.1,354.4 56.1,349.3 60.7,349.3 60.7,344.3 61.6,344.3 61.6,339.9 68.2,339.9 68.2,335 78,335 78,325.3 78.5,325.3 78.5,320.5 84.7,320.5 84.7,315.7 86,315.7 86,311.3 87.5,311.3 87.5,306.6 89.4,306.6 89.4,301.2 103,301.2 103,291.6 111.9,291.6 111.9,287.1 153.6,287.1 153.6,281.8 157.9,281.8 157.9,277.5 202.6,277.5" fill="none" stroke="#111" stroke-width="1.15"/>
<circle cx="90.5" cy="301.2" r="1.5" fill="#000"/>
<text stroke="#111" stroke-width="0.1" x="93.9" y="308.3" font-size="7.75" fill="#111">0.132 (0.704, 0.848)</text>
<text stroke="#111" stroke-width="0.1" x="123.1" y="361.8" font-size="7.75" fill="#111">AUC: 0.844</text>
<rect x="37.2" y="271" width="171.5" height="171.2" fill="none" stroke="#666" stroke-width="1"/>
<line x1="43.5" y1="442.2" x2="43.5" y2="447.2" stroke="#666" stroke-width="1"/>
<line x1="32.2" y1="436.4" x2="37.2" y2="436.4" stroke="#666" stroke-width="1"/>
<text stroke="#222" stroke-width="0.1" x="43.5" y="459.4" font-size="7.75" text-anchor="middle" fill="#222">0.0</text>
<text stroke="#222" stroke-width="0.1" transform="translate(26.2,436.4) rotate(-90)" font-size="7.75" text-anchor="middle" fill="#222">0.0</text>
<line x1="75.32" y1="442.2" x2="75.32" y2="447.2" stroke="#666" stroke-width="1"/>
<line x1="32.2" y1="404.62" x2="37.2" y2="404.62" stroke="#666" stroke-width="1"/>
<text stroke="#222" stroke-width="0.1" x="75.32" y="459.4" font-size="7.75" text-anchor="middle" fill="#222">0.2</text>
<text stroke="#222" stroke-width="0.1" transform="translate(26.2,404.62) rotate(-90)" font-size="7.75" text-anchor="middle" fill="#222">0.2</text>
<line x1="107.14" y1="442.2" x2="107.14" y2="447.2" stroke="#666" stroke-width="1"/>
<line x1="32.2" y1="372.84" x2="37.2" y2="372.84" stroke="#666" stroke-width="1"/>
<text stroke="#222" stroke-width="0.1" x="107.14" y="459.4" font-size="7.75" text-anchor="middle" fill="#222">0.4</text>
<text stroke="#222" stroke-width="0.1" transform="translate(26.2,372.84) rotate(-90)" font-size="7.75" text-anchor="middle" fill="#222">0.4</text>
<line x1="138.96" y1="442.2" x2="138.96" y2="447.2" stroke="#666" stroke-width="1"/>
<line x1="32.2" y1="341.06" x2="37.2" y2="341.06" stroke="#666" stroke-width="1"/>
<text stroke="#222" stroke-width="0.1" x="138.96" y="459.4" font-size="7.75" text-anchor="middle" fill="#222">0.6</text>
<text stroke="#222" stroke-width="0.1" transform="translate(26.2,341.06) rotate(-90)" font-size="7.75" text-anchor="middle" fill="#222">0.6</text>
<line x1="170.78" y1="442.2" x2="170.78" y2="447.2" stroke="#666" stroke-width="1"/>
<line x1="32.2" y1="309.28" x2="37.2" y2="309.28" stroke="#666" stroke-width="1"/>
<text stroke="#222" stroke-width="0.1" x="170.78" y="459.4" font-size="7.75" text-anchor="middle" fill="#222">0.8</text>
<text stroke="#222" stroke-width="0.1" transform="translate(26.2,309.28) rotate(-90)" font-size="7.75" text-anchor="middle" fill="#222">0.8</text>
<line x1="202.6" y1="442.2" x2="202.6" y2="447.2" stroke="#666" stroke-width="1"/>
<line x1="32.2" y1="277.5" x2="37.2" y2="277.5" stroke="#666" stroke-width="1"/>
<text stroke="#222" stroke-width="0.1" x="202.6" y="459.4" font-size="7.75" text-anchor="middle" fill="#222">1.0</text>
<text stroke="#222" stroke-width="0.1" transform="translate(26.2,277.5) rotate(-90)" font-size="7.75" text-anchor="middle" fill="#222">1.0</text>
<text stroke="#222" stroke-width="0.1" x="123.05" y="472.2" font-size="7.75" text-anchor="middle" fill="#222">1 − Specificity</text>
<text stroke="#222" stroke-width="0.1" transform="translate(12.6,356.95) rotate(-90)" font-size="7.75" text-anchor="middle" fill="#222">Sensitivity</text>
<text stroke="#000" stroke-width="0.1" x="238.9" y="252.3" font-size="14.5" fill="#000">D</text>
<line x1="281.8" y1="272.2" x2="281.8" y2="442.8" stroke="#e2e2e2" stroke-width="0.7" stroke-dasharray="1 1.5"/>
<line x1="275.4" y1="436.5" x2="446.8" y2="436.5" stroke="#e2e2e2" stroke-width="0.7" stroke-dasharray="1 1.5"/>
<line x1="297.6" y1="272.2" x2="297.6" y2="442.8" stroke="#e2e2e2" stroke-width="0.7" stroke-dasharray="1 1.5"/>
<line x1="275.4" y1="420.69" x2="446.8" y2="420.69" stroke="#e2e2e2" stroke-width="0.7" stroke-dasharray="1 1.5"/>
<line x1="313.4" y1="272.2" x2="313.4" y2="442.8" stroke="#e2e2e2" stroke-width="0.7" stroke-dasharray="1 1.5"/>
<line x1="275.4" y1="404.88" x2="446.8" y2="404.88" stroke="#e2e2e2" stroke-width="0.7" stroke-dasharray="1 1.5"/>
<line x1="329.2" y1="272.2" x2="329.2" y2="442.8" stroke="#e2e2e2" stroke-width="0.7" stroke-dasharray="1 1.5"/>
<line x1="275.4" y1="389.07" x2="446.8" y2="389.07" stroke="#e2e2e2" stroke-width="0.7" stroke-dasharray="1 1.5"/>
<line x1="345" y1="272.2" x2="345" y2="442.8" stroke="#e2e2e2" stroke-width="0.7" stroke-dasharray="1 1.5"/>
<line x1="275.4" y1="373.26" x2="446.8" y2="373.26" stroke="#e2e2e2" stroke-width="0.7" stroke-dasharray="1 1.5"/>
<line x1="360.8" y1="272.2" x2="360.8" y2="442.8" stroke="#e2e2e2" stroke-width="0.7" stroke-dasharray="1 1.5"/>
<line x1="275.4" y1="357.45" x2="446.8" y2="357.45" stroke="#e2e2e2" stroke-width="0.7" stroke-dasharray="1 1.5"/>
<line x1="376.6" y1="272.2" x2="376.6" y2="442.8" stroke="#e2e2e2" stroke-width="0.7" stroke-dasharray="1 1.5"/>
<line x1="275.4" y1="341.64" x2="446.8" y2="341.64" stroke="#e2e2e2" stroke-width="0.7" stroke-dasharray="1 1.5"/>
<line x1="392.4" y1="272.2" x2="392.4" y2="442.8" stroke="#e2e2e2" stroke-width="0.7" stroke-dasharray="1 1.5"/>
<line x1="275.4" y1="325.83" x2="446.8" y2="325.83" stroke="#e2e2e2" stroke-width="0.7" stroke-dasharray="1 1.5"/>
<line x1="408.2" y1="272.2" x2="408.2" y2="442.8" stroke="#e2e2e2" stroke-width="0.7" stroke-dasharray="1 1.5"/>
<line x1="275.4" y1="310.02" x2="446.8" y2="310.02" stroke="#e2e2e2" stroke-width="0.7" stroke-dasharray="1 1.5"/>
<line x1="424" y1="272.2" x2="424" y2="442.8" stroke="#e2e2e2" stroke-width="0.7" stroke-dasharray="1 1.5"/>
<line x1="275.4" y1="294.21" x2="446.8" y2="294.21" stroke="#e2e2e2" stroke-width="0.7" stroke-dasharray="1 1.5"/>
<line x1="439.8" y1="272.2" x2="439.8" y2="442.8" stroke="#e2e2e2" stroke-width="0.7" stroke-dasharray="1 1.5"/>
<line x1="275.4" y1="278.4" x2="446.8" y2="278.4" stroke="#e2e2e2" stroke-width="0.7" stroke-dasharray="1 1.5"/>
<rect x="281.8" y="278.4" width="158" height="158.1" fill="#ececec"/>
<polygon points="281.8,436.5 284.6,436.5 284.6,424.3 289.3,424.3 289.3,412.2 291.3,412.2 291.3,400.1 294.3,400.1 294.3,375.8 304.5,375.8 304.5,363.6 307.3,363.6 307.3,351.5 328.7,351.5 328.7,339.3 339.7,339.3 339.7,315 364.1,315 364.1,302.8 375.3,302.8 375.3,290.6 391.7,290.6 391.7,278.4 439.8,278.4 439.8,436.5" fill="#2196e3"/>
<rect x="281.8" y="278.4" width="158" height="158.1" fill="none" stroke="#555" stroke-width="1"/>
<line x1="275.4" y1="442.8" x2="446.8" y2="272.2" stroke="#aaaaaa" stroke-width="0.65"/>
<polyline points="281.8,436.5 284.6,436.5 284.6,424.3 289.3,424.3 289.3,412.2 291.3,412.2 291.3,400.1 294.3,400.1 294.3,375.8 304.5,375.8 304.5,363.6 307.3,363.6 307.3,351.5 328.7,351.5 328.7,339.3 339.7,339.3 339.7,315 364.1,315 364.1,302.8 375.3,302.8 375.3,290.6 391.7,290.6 391.7,278.4 439.8,278.4" fill="none" stroke="#111" stroke-width="1.15"/>
<circle cx="339.7" cy="315" r="1.5" fill="#000"/>
<text stroke="#111" stroke-width="0.1" x="343.2" y="321.5" font-size="7.75" fill="#111">0.133 (0.633, 0.769)</text>
<text stroke="#111" stroke-width="0.1" x="360.9" y="362.8" font-size="7.75" fill="#111">AUC: 0.735</text>
<rect x="275.4" y="272.2" width="171.4" height="170.6" fill="none" stroke="#555" stroke-width="1"/>
<line x1="281.8" y1="442.8" x2="281.8" y2="447.8" stroke="#555" stroke-width="1"/>
<line x1="270.4" y1="436.5" x2="275.4" y2="436.5" stroke="#555" stroke-width="1"/>
<text stroke="#222" stroke-width="0.1" x="281.8" y="460" font-size="7.75" text-anchor="middle" fill="#222">0.0</text>
<text stroke="#222" stroke-width="0.1" transform="translate(264.4,436.5) rotate(-90)" font-size="7.75" text-anchor="middle" fill="#222">0.0</text>
<line x1="313.4" y1="442.8" x2="313.4" y2="447.8" stroke="#555" stroke-width="1"/>
<line x1="270.4" y1="404.88" x2="275.4" y2="404.88" stroke="#555" stroke-width="1"/>
<text stroke="#222" stroke-width="0.1" x="313.4" y="460" font-size="7.75" text-anchor="middle" fill="#222">0.2</text>
<text stroke="#222" stroke-width="0.1" transform="translate(264.4,404.88) rotate(-90)" font-size="7.75" text-anchor="middle" fill="#222">0.2</text>
<line x1="345" y1="442.8" x2="345" y2="447.8" stroke="#555" stroke-width="1"/>
<line x1="270.4" y1="373.26" x2="275.4" y2="373.26" stroke="#555" stroke-width="1"/>
<text stroke="#222" stroke-width="0.1" x="345" y="460" font-size="7.75" text-anchor="middle" fill="#222">0.4</text>
<text stroke="#222" stroke-width="0.1" transform="translate(264.4,373.26) rotate(-90)" font-size="7.75" text-anchor="middle" fill="#222">0.4</text>
<line x1="376.6" y1="442.8" x2="376.6" y2="447.8" stroke="#555" stroke-width="1"/>
<line x1="270.4" y1="341.64" x2="275.4" y2="341.64" stroke="#555" stroke-width="1"/>
<text stroke="#222" stroke-width="0.1" x="376.6" y="460" font-size="7.75" text-anchor="middle" fill="#222">0.6</text>
<text stroke="#222" stroke-width="0.1" transform="translate(264.4,341.64) rotate(-90)" font-size="7.75" text-anchor="middle" fill="#222">0.6</text>
<line x1="408.2" y1="442.8" x2="408.2" y2="447.8" stroke="#555" stroke-width="1"/>
<line x1="270.4" y1="310.02" x2="275.4" y2="310.02" stroke="#555" stroke-width="1"/>
<text stroke="#222" stroke-width="0.1" x="408.2" y="460" font-size="7.75" text-anchor="middle" fill="#222">0.8</text>
<text stroke="#222" stroke-width="0.1" transform="translate(264.4,310.02) rotate(-90)" font-size="7.75" text-anchor="middle" fill="#222">0.8</text>
<line x1="439.8" y1="442.8" x2="439.8" y2="447.8" stroke="#555" stroke-width="1"/>
<line x1="270.4" y1="278.4" x2="275.4" y2="278.4" stroke="#555" stroke-width="1"/>
<text stroke="#222" stroke-width="0.1" x="439.8" y="460" font-size="7.75" text-anchor="middle" fill="#222">1.0</text>
<text stroke="#222" stroke-width="0.1" transform="translate(264.4,278.4) rotate(-90)" font-size="7.75" text-anchor="middle" fill="#222">1.0</text>
<text stroke="#222" stroke-width="0.1" x="360.8" y="472.8" font-size="7.75" text-anchor="middle" fill="#222">1 − Specificity</text>
<text stroke="#222" stroke-width="0.1" transform="translate(250.8,357.45) rotate(-90)" font-size="7.75" text-anchor="middle" fill="#222">Sensitivity</text>
<text stroke="#000" stroke-width="0.1" x="478.3" y="252.3" font-size="14.5" fill="#000">E</text>
<line x1="519.5" y1="270.8" x2="519.5" y2="437.2" stroke="#e2e2e2" stroke-width="0.7" stroke-dasharray="1 1.5"/>
<line x1="511.3" y1="431.2" x2="681.3" y2="431.2" stroke="#e2e2e2" stroke-width="0.7" stroke-dasharray="1 1.5"/>
<line x1="535" y1="270.8" x2="535" y2="437.2" stroke="#e2e2e2" stroke-width="0.7" stroke-dasharray="1 1.5"/>
<line x1="511.3" y1="415.79" x2="681.3" y2="415.79" stroke="#e2e2e2" stroke-width="0.7" stroke-dasharray="1 1.5"/>
<line x1="550.5" y1="270.8" x2="550.5" y2="437.2" stroke="#e2e2e2" stroke-width="0.7" stroke-dasharray="1 1.5"/>
<line x1="511.3" y1="400.38" x2="681.3" y2="400.38" stroke="#e2e2e2" stroke-width="0.7" stroke-dasharray="1 1.5"/>
<line x1="566" y1="270.8" x2="566" y2="437.2" stroke="#e2e2e2" stroke-width="0.7" stroke-dasharray="1 1.5"/>
<line x1="511.3" y1="384.97" x2="681.3" y2="384.97" stroke="#e2e2e2" stroke-width="0.7" stroke-dasharray="1 1.5"/>
<line x1="581.5" y1="270.8" x2="581.5" y2="437.2" stroke="#e2e2e2" stroke-width="0.7" stroke-dasharray="1 1.5"/>
<line x1="511.3" y1="369.56" x2="681.3" y2="369.56" stroke="#e2e2e2" stroke-width="0.7" stroke-dasharray="1 1.5"/>
<line x1="597" y1="270.8" x2="597" y2="437.2" stroke="#e2e2e2" stroke-width="0.7" stroke-dasharray="1 1.5"/>
<line x1="511.3" y1="354.15" x2="681.3" y2="354.15" stroke="#e2e2e2" stroke-width="0.7" stroke-dasharray="1 1.5"/>
<line x1="612.5" y1="270.8" x2="612.5" y2="437.2" stroke="#e2e2e2" stroke-width="0.7" stroke-dasharray="1 1.5"/>
<line x1="511.3" y1="338.74" x2="681.3" y2="338.74" stroke="#e2e2e2" stroke-width="0.7" stroke-dasharray="1 1.5"/>
<line x1="628" y1="270.8" x2="628" y2="437.2" stroke="#e2e2e2" stroke-width="0.7" stroke-dasharray="1 1.5"/>
<line x1="511.3" y1="323.33" x2="681.3" y2="323.33" stroke="#e2e2e2" stroke-width="0.7" stroke-dasharray="1 1.5"/>
<line x1="643.5" y1="270.8" x2="643.5" y2="437.2" stroke="#e2e2e2" stroke-width="0.7" stroke-dasharray="1 1.5"/>
<line x1="511.3" y1="307.92" x2="681.3" y2="307.92" stroke="#e2e2e2" stroke-width="0.7" stroke-dasharray="1 1.5"/>
<line x1="659" y1="270.8" x2="659" y2="437.2" stroke="#e2e2e2" stroke-width="0.7" stroke-dasharray="1 1.5"/>
<line x1="511.3" y1="292.51" x2="681.3" y2="292.51" stroke="#e2e2e2" stroke-width="0.7" stroke-dasharray="1 1.5"/>
<line x1="674.5" y1="270.8" x2="674.5" y2="437.2" stroke="#e2e2e2" stroke-width="0.7" stroke-dasharray="1 1.5"/>
<line x1="511.3" y1="277.1" x2="681.3" y2="277.1" stroke="#e2e2e2" stroke-width="0.7" stroke-dasharray="1 1.5"/>
<rect x="519.5" y="277.1" width="155" height="154.1" fill="#ececec"/>
<polygon points="519.5,431.2 530,431.2 530,405.5 533.1,405.5 533.1,379.9 540.6,379.9 540.6,354 543.4,354 543.4,328.3 557.5,328.3 557.5,302.6 653.7,302.6 653.7,277.1 674.5,277.1 674.5,431.2" fill="#2ce0e3"/>
<rect x="519.5" y="277.1" width="155" height="154.1" fill="none" stroke="#777" stroke-width="1"/>
<line x1="511.3" y1="437.2" x2="681.3" y2="270.8" stroke="#aaaaaa" stroke-width="0.65"/>
<polyline points="519.5,431.2 530,431.2 530,405.5 533.1,405.5 533.1,379.9 540.6,379.9 540.6,354 543.4,354 543.4,328.3 557.5,328.3 557.5,302.6 653.7,302.6 653.7,277.1 674.5,277.1" fill="none" stroke="#111" stroke-width="1.15"/>
<circle cx="557.5" cy="302.6" r="1.5" fill="#000"/>
<text stroke="#111" stroke-width="0.1" x="560.7" y="308.6" font-size="7.35" fill="#111">0.109 (0.756, 0.833)</text>
<text stroke="#111" stroke-width="0.1" x="597.3" y="359.4" font-size="7.35" fill="#111">AUC: 0.741</text>
<rect x="511.3" y="270.8" width="170" height="166.4" fill="none" stroke="#888" stroke-width="1"/>
<line x1="519.5" y1="437.2" x2="519.5" y2="442.2" stroke="#888" stroke-width="1"/>
<line x1="506.3" y1="431.2" x2="511.3" y2="431.2" stroke="#888" stroke-width="1"/>
<text stroke="#222" stroke-width="0.1" x="519.5" y="453.6" font-size="7.35" text-anchor="middle" fill="#222">0.0</text>
<text stroke="#222" stroke-width="0.1" transform="translate(501,431.2) rotate(-90)" font-size="7.35" text-anchor="middle" fill="#222">0.0</text>
<line x1="550.5" y1="437.2" x2="550.5" y2="442.2" stroke="#888" stroke-width="1"/>
<line x1="506.3" y1="400.38" x2="511.3" y2="400.38" stroke="#888" stroke-width="1"/>
<text stroke="#222" stroke-width="0.1" x="550.5" y="453.6" font-size="7.35" text-anchor="middle" fill="#222">0.2</text>
<text stroke="#222" stroke-width="0.1" transform="translate(501,400.38) rotate(-90)" font-size="7.35" text-anchor="middle" fill="#222">0.2</text>
<line x1="581.5" y1="437.2" x2="581.5" y2="442.2" stroke="#888" stroke-width="1"/>
<line x1="506.3" y1="369.56" x2="511.3" y2="369.56" stroke="#888" stroke-width="1"/>
<text stroke="#222" stroke-width="0.1" x="581.5" y="453.6" font-size="7.35" text-anchor="middle" fill="#222">0.4</text>
<text stroke="#222" stroke-width="0.1" transform="translate(501,369.56) rotate(-90)" font-size="7.35" text-anchor="middle" fill="#222">0.4</text>
<line x1="612.5" y1="437.2" x2="612.5" y2="442.2" stroke="#888" stroke-width="1"/>
<line x1="506.3" y1="338.74" x2="511.3" y2="338.74" stroke="#888" stroke-width="1"/>
<text stroke="#222" stroke-width="0.1" x="612.5" y="453.6" font-size="7.35" text-anchor="middle" fill="#222">0.6</text>
<text stroke="#222" stroke-width="0.1" transform="translate(501,338.74) rotate(-90)" font-size="7.35" text-anchor="middle" fill="#222">0.6</text>
<line x1="643.5" y1="437.2" x2="643.5" y2="442.2" stroke="#888" stroke-width="1"/>
<line x1="506.3" y1="307.92" x2="511.3" y2="307.92" stroke="#888" stroke-width="1"/>
<text stroke="#222" stroke-width="0.1" x="643.5" y="453.6" font-size="7.35" text-anchor="middle" fill="#222">0.8</text>
<text stroke="#222" stroke-width="0.1" transform="translate(501,307.92) rotate(-90)" font-size="7.35" text-anchor="middle" fill="#222">0.8</text>
<line x1="674.5" y1="437.2" x2="674.5" y2="442.2" stroke="#888" stroke-width="1"/>
<line x1="506.3" y1="277.1" x2="511.3" y2="277.1" stroke="#888" stroke-width="1"/>
<text stroke="#222" stroke-width="0.1" x="674.5" y="453.6" font-size="7.35" text-anchor="middle" fill="#222">1.0</text>
<text stroke="#222" stroke-width="0.1" transform="translate(501,277.1) rotate(-90)" font-size="7.35" text-anchor="middle" fill="#222">1.0</text>
<text stroke="#222" stroke-width="0.1" x="597" y="466.4" font-size="7.35" text-anchor="middle" fill="#222">1 − Specificity</text>
<text stroke="#222" stroke-width="0.1" transform="translate(487.4,354.15) rotate(-90)" font-size="7.35" text-anchor="middle" fill="#222">Sensitivity</text>
</svg>
</body></html>
